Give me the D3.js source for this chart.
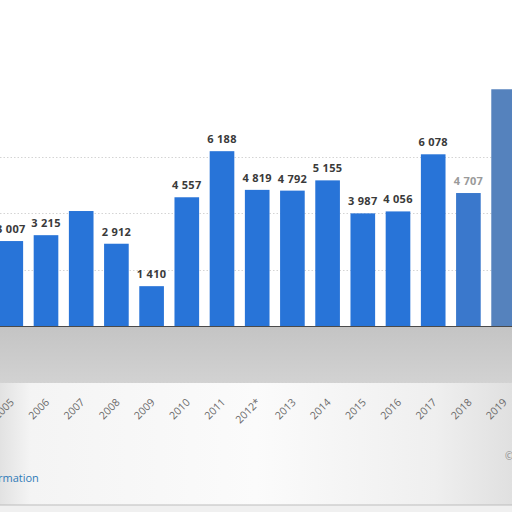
<!DOCTYPE html>
<html lang="en">
<head>
  <meta charset="UTF-8" />
  <title>Bar chart - D3.js</title>
  <style>
    html, body { margin: 0; padding: 0; background: #fff; }
    svg { display: block; font-family: "Open Sans", Arial, sans-serif; }
    .value { font-size: 11px; font-weight: bold; fill: #3a3a3a; text-anchor: middle; letter-spacing: 0.3px; }
    .tick-label { font-size: 10.5px; fill: #6a6a6a; text-anchor: end; }
    .grid { stroke: #d4d4d4; stroke-dasharray: 1.5 2; }
  </style>
</head>
<body>
  <svg width="512" height="512"></svg>
  <script src="https://d3js.org/d3.v7.min.js"></script>
  <script>
    const years = ["2005", "2006", "2007", "2008", "2009", "2010", "2011", "2012*", "2013", "2014", "2015", "2016", "2017", "2018", "2019"];
    const values = [3007, 3215, 4070, 2912, 1410, 4557, 6188, 4819, 4792, 5155, 3987, 4056, 6078, 4707, 8380];
    // labels that are hidden or washed out in the picture
    const hiddenLabels = ["2007", "2019"];
    const fadedLabels = ["2018"];
    const gridValues = [2000, 4000, 6000];

    const svg = d3.select("svg");
    const baseY = 326;

    const x = d3.scaleBand()
      .domain(years)
      .range([-6.8, 521.2])
      .paddingInner(0.3)
      .paddingOuter(0.15);

    const y = d3.scaleLinear()
      .domain([0, 8000])
      .range([baseY, baseY - 226]);

    const defs = svg.append("defs");
    const band = defs.append("linearGradient").attr("id", "band").attr("x1", 0).attr("x2", 0).attr("y1", 0).attr("y2", 1);
    band.append("stop").attr("offset", 0).attr("stop-color", "#c4c4c4");
    band.append("stop").attr("offset", 1).attr("stop-color", "#d2d2d2");
    const low = defs.append("linearGradient").attr("id", "low").attr("x1", 0).attr("x2", 1).attr("y1", 0).attr("y2", 0);
    low.append("stop").attr("offset", 0).attr("stop-color", "#e2e2e2");
    low.append("stop").attr("offset", 0.06).attr("stop-color", "#f4f4f4");
    low.append("stop").attr("offset", 0.5).attr("stop-color", "#fbfbfb");
    low.append("stop").attr("offset", 0.85).attr("stop-color", "#efefef");
    low.append("stop").attr("offset", 1).attr("stop-color", "#e0e0e0");

    // lower area and grey band under the axis
    svg.append("rect").attr("x", 0).attr("y", 383).attr("width", 512).attr("height", 122).attr("fill", "url(#low)");
    svg.append("rect").attr("x", 0).attr("y", 505).attr("width", 512).attr("height", 7).attr("fill", "#f0f0f0");
    svg.append("line").attr("x1", 0).attr("x2", 512).attr("y1", 505).attr("y2", 505).attr("stroke", "#bdbdbd");
    svg.append("rect").attr("x", 0).attr("y", baseY).attr("width", 512).attr("height", 57).attr("fill", "url(#band)");
    svg.append("line").attr("class", "grid").attr("x1", 0).attr("x2", 512).attr("y1", 382.5).attr("y2", 382.5);

    // grid lines
    svg.append("g").selectAll("line")
      .data(gridValues).join("line")
      .attr("class", "grid")
      .attr("x1", 0).attr("x2", 512)
      .attr("y1", d => Math.round(y(d)) + 0.5)
      .attr("y2", d => Math.round(y(d)) + 0.5);

    // bars
    svg.append("g").selectAll("rect")
      .data(years).join("rect")
      .attr("x", d => x(d))
      .attr("y", (d, i) => y(values[i]))
      .attr("width", x.bandwidth())
      .attr("height", (d, i) => baseY - y(values[i]))
      .attr("fill", d => d === "2018" ? "#3a78cc" : d === "2019" ? "#5582bd" : "#2874d8");

    svg.append("line").attr("x1", 0).attr("x2", 512).attr("y1", baseY + 0.5).attr("y2", baseY + 0.5)
      .attr("stroke", "#4a4a4a");

    // value labels
    const fmt = v => d3.format(",")(v).replace(/,/g, " ");
    svg.append("g").selectAll("text")
      .data(years.filter(d => !hiddenLabels.includes(d))).join("text")
      .attr("class", "value")
      .attr("x", d => x(d) + x.bandwidth() / 2)
      .attr("y", d => y(values[years.indexOf(d)]) - 8)
      .style("fill", d => fadedLabels.includes(d) ? "#9a9a9a" : null)
      .text(d => fmt(values[years.indexOf(d)]));

    // x axis labels
    svg.append("g").selectAll("text")
      .data(years).join("text")
      .attr("class", "tick-label")
      .attr("transform", d => `translate(${x(d) + x.bandwidth() / 2 + 4},${403}) rotate(-45)`)
      .text(d => d);

    svg.append("text").attr("x", -2).attr("y", 482)
      .attr("font-size", 11).attr("fill", "#2f7ab8").text("rmation");
    svg.append("text").attr("x", 505).attr("y", 460)
      .attr("font-size", 10).attr("fill", "#8a8a8a").text("©");
  </script>
</body>
</html>
